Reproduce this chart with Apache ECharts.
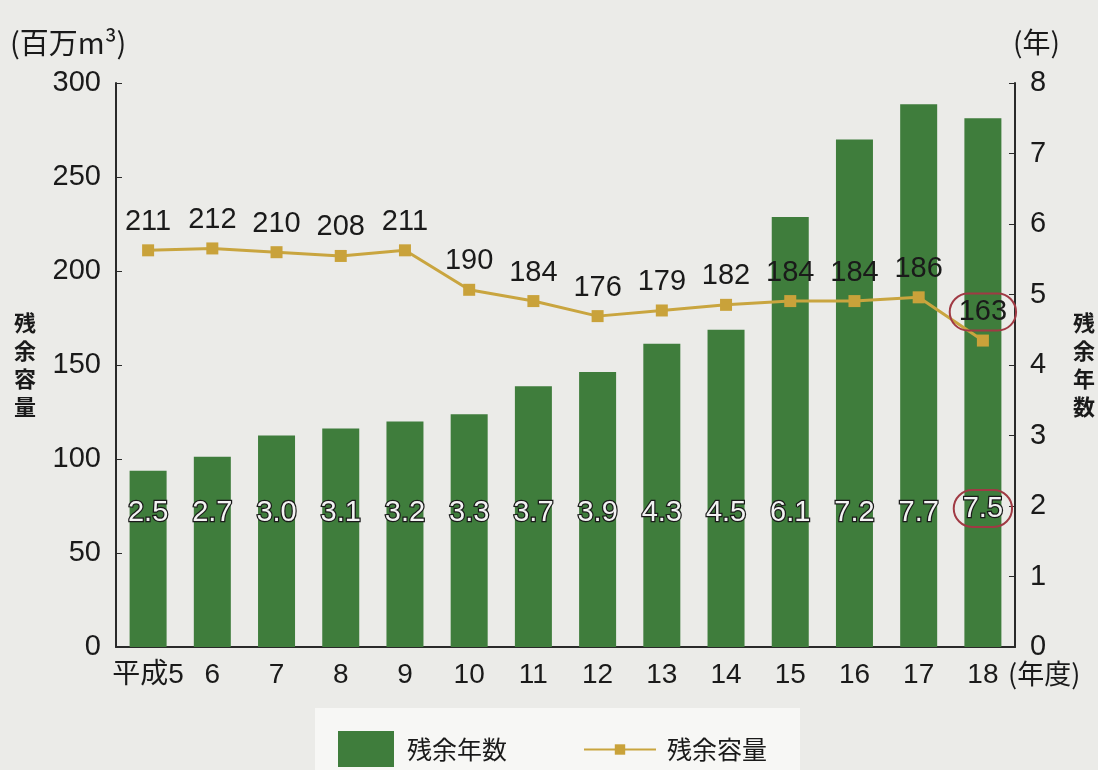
<!DOCTYPE html>
<html><head><meta charset="utf-8">
<script src="https://cdn.jsdelivr.net/npm/echarts@6/dist/echarts.min.js"></script>
<style>html,body{margin:0;padding:0;background:#ebebe8}#c{width:1098px;height:770px}</style>
</head><body><div id="c"></div>
<script>
var categories = ['平成5','6','7','8','9','10','11','12','13','14','15','16','17','18'];
var remainingYears = [2.5,2.7,3.0,3.1,3.2,3.3,3.7,3.9,4.3,4.5,6.1,7.2,7.7,7.5];
var remainingCapacity = [211,212,210,208,211,190,184,176,179,182,184,184,186,163];
var leftTicks = {min:0, max:300, interval:50};
var rightTicks = {min:0, max:8, interval:1};

var FONT = "'Liberation Sans','Noto Sans CJK JP',sans-serif";
var CJK = "'Noto Sans CJK JP',sans-serif";
var circled = {borderColor:'#a03a44', borderWidth:2, borderRadius:30, padding:[4,9]};

var barData = remainingYears.map(function(v,i){
  var d = {value:v};
  if (i === remainingYears.length-1) d.label = Object.assign({}, circled);
  return d;
});
var lineData = remainingCapacity.map(function(v,i){
  var d = {value:v};
  if (i === remainingCapacity.length-1) d.label = Object.assign({offset:[0,4]}, circled);
  return d;
});

var chart = echarts.init(document.getElementById('c'));
chart.setOption({
  backgroundColor:'#ebebe8',
  animation:false,
  textStyle:{fontFamily:FONT},
  grid:{left:116, right:78, top:83, bottom:123},
  xAxis:{
    type:'category', data:categories,
    axisLine:{lineStyle:{color:'#2a2a2a', width:2}},
    axisTick:{show:false},
    axisLabel:{color:'#1a1a1a', fontSize:28, margin:14, interval:0, fontFamily:FONT}
  },
  yAxis:[
    {type:'value', min:leftTicks.min, max:leftTicks.max, interval:leftTicks.interval,
     name:'残\n余\n容\n量', nameLocation:'middle', nameGap:80, nameRotate:0,
     nameTextStyle:{fontSize:22, lineHeight:28, color:'#1a1a1a', fontWeight:'bold', fontFamily:CJK},
     axisLine:{show:true, lineStyle:{color:'#2a2a2a', width:2}},
     axisTick:{show:true, inside:true, length:6, lineStyle:{color:'#2a2a2a'}},
     splitLine:{show:false},
     axisLabel:{color:'#1a1a1a', fontSize:29, margin:15, fontFamily:FONT}},
    {type:'value', min:rightTicks.min, max:rightTicks.max, interval:rightTicks.interval,
     name:'残\n余\n年\n数', nameLocation:'middle', nameGap:58, nameRotate:0,
     nameTextStyle:{fontSize:22, lineHeight:28, color:'#1a1a1a', fontWeight:'bold', fontFamily:CJK},
     axisLine:{show:true, lineStyle:{color:'#2a2a2a', width:2}},
     axisTick:{show:true, inside:true, length:6, lineStyle:{color:'#2a2a2a'}},
     splitLine:{show:false},
     axisLabel:{color:'#1a1a1a', fontSize:29, margin:15, fontFamily:FONT}}
  ],
  legend:[
    {data:[{name:'残余年数', icon:'rect'}], left:333, top:726, itemWidth:56, itemHeight:36, itemGap:10,
     textStyle:{fontSize:25, color:'#1a1a1a', fontFamily:CJK, padding:[0,0,0,8]}},
    {data:['残余容量'], left:578, top:732, itemWidth:72, itemHeight:13,
     textStyle:{fontSize:25, color:'#1a1a1a', fontFamily:CJK, padding:[0,0,0,6]}}
  ],
  graphic:[
    {type:'rect', left:315, top:708, z:-1, shape:{width:485, height:62}, style:{fill:'#f7f7f5'}},
    {type:'text', left:10, top:28, style:{text:'(百万m³)', fontSize:29, fill:'#1a1a1a', fontFamily:CJK}},
    {type:'text', left:1013, top:28, style:{text:'(年)', fontSize:28, fill:'#1a1a1a', fontFamily:CJK}},
    {type:'text', left:1008, top:660, style:{text:'(年度)', fontSize:27, fill:'#1a1a1a', fontFamily:CJK}}
  ],
  series:[
    {name:'残余年数', type:'bar', yAxisIndex:1, data:barData, barWidth:37,
     itemStyle:{color:'#3f7d3c'},
     label:{show:true, position:'insideBottom', distance:120, formatter:function(p){return p.value.toFixed(1);},
       fontSize:29, color:'#f2f2f2', textBorderColor:'#1a1a1a', textBorderWidth:2.5, fontFamily:FONT}},
    {name:'残余容量', type:'line', yAxisIndex:0, data:lineData,
     symbol:'rect', symbolSize:12,
     lineStyle:{color:'#c9a53f', width:3},
     itemStyle:{color:'#c9a23a'},
     label:{show:true, position:'top', distance:8, fontSize:29, color:'#1a1a1a', fontFamily:FONT},
     z:5}
  ]
});
</script></body></html>
